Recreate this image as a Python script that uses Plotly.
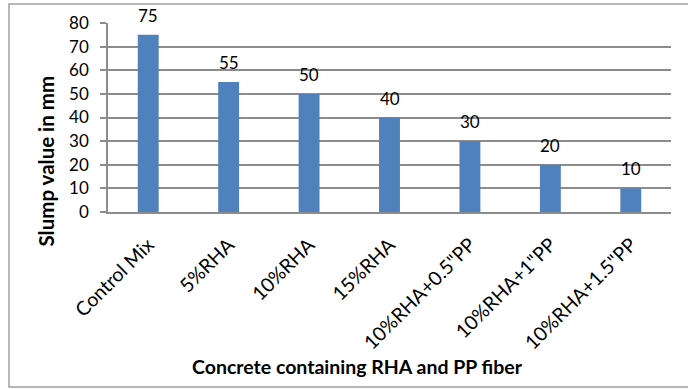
import plotly.graph_objects as go

categories = ["Control Mix", "5%RHA", "10%RHA", "15%RHA",
              "10%RHA+0.5\"PP", "10%RHA+1\"PP", "10%RHA+1.5\"PP"]
slump = [75, 55, 50, 40, 30, 20, 10]
y_ticks = [0, 10, 20, 30, 40, 50, 60, 70, 80]
x_title = "Concrete containing RHA and PP fiber"
y_title = "Slump value in mm"

W, H = 688, 389
L, R, T, B = 108, 17, 23, 177
pw, ph = W - L - R, H - T - B

FONT = "Lato, 'Liberation Sans', sans-serif"
grid = "#8c8c8c"

fig = go.Figure(go.Bar(
    x=categories, y=slump,
    marker=dict(color="#4f81bd", line=dict(width=0)),
    width=0.26,
    hoverinfo="x+y",
))

for c, v in zip(categories, slump):
    fig.add_annotation(x=c, y=v, text=str(v), showarrow=False,
                       yanchor="bottom", yshift=7,
                       font=dict(size=17, color="black", family=FONT))

def px_x(x):
    return (x - L) / pw

def px_y(y):
    return (H - B - y) / ph

fig.add_annotation(xref="paper", yref="paper", x=px_x(357), y=px_y(366),
                   xanchor="center", yanchor="middle", showarrow=False,
                   text="<b>%s</b>" % x_title,
                   font=dict(size=19.5, family=FONT, color="black"))
fig.add_annotation(xref="paper", yref="paper", x=px_x(45.5), y=px_y(161),
                   xanchor="center", yanchor="middle", showarrow=False,
                   textangle=-90, text="<b>%s</b>" % y_title,
                   font=dict(size=20.5, family=FONT, color="black"))

fig.update_layout(
    width=W, height=H,
    margin=dict(l=L, r=R, t=T, b=B, autoexpand=False),
    paper_bgcolor="white", plot_bgcolor="white",
    showlegend=False,
    font=dict(family=FONT, size=17, color="black"),
    xaxis=dict(
        automargin=False,
        tickangle=-45, tickfont=dict(size=19.5, family=FONT),
        ticklabelstandoff=12,
        showline=True, linecolor=grid, linewidth=1.5,
        ticks="", showgrid=False,
    ),
    yaxis=dict(
        automargin=False,
        range=[0, 80], tickvals=y_ticks,
        tickfont=dict(size=17, family=FONT),
        ticklabelstandoff=8,
        showline=True, linecolor=grid, linewidth=1.5,
        showgrid=True, gridcolor=grid, gridwidth=1.5,
        ticks="outside", ticklen=6, tickcolor=grid, tickwidth=1.5,
        zeroline=False,
    ),
    shapes=[dict(type="rect", xref="paper", yref="paper",
                 x0=px_x(9), x1=px_x(700), y0=px_y(4), y1=px_y(387),
                 line=dict(color="#a0a0a0", width=1.5), layer="below")],
)

fig.write_html("out.html", config={"displayModeBar": False},
               post_script="document.body.style.margin='0';document.body.style.padding='0';")
